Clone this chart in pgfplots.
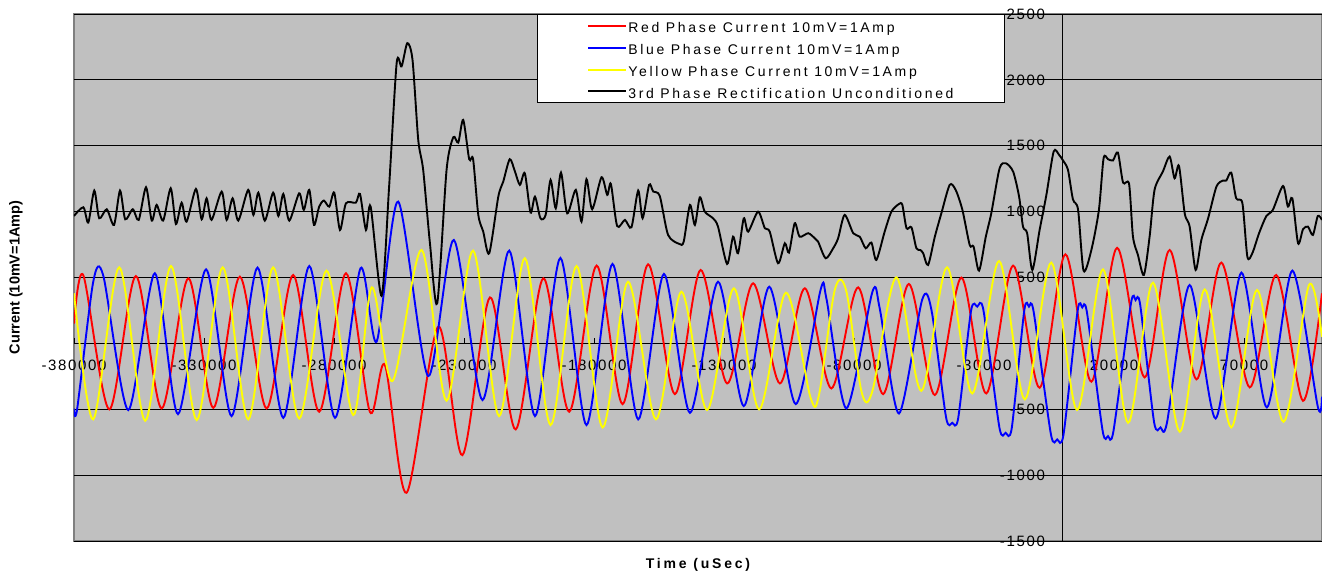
\documentclass[border=0pt]{standalone}
\usepackage{fontspec}
\setmainfont{Liberation Sans}
\newfontfamily\tickfont[LetterSpace=11]{Liberation Sans}
\newfontfamily\legfont[LetterSpace=19]{Liberation Sans}
\newfontfamily\xlabfont[LetterSpace=20]{Liberation Sans}
\usepackage{pgfplots}
\pgfplotsset{compat=1.18}
\definecolor{plotgray}{HTML}{C0C0C0}
\definecolor{framegray}{HTML}{808080}
\definecolor{phred}{HTML}{FF0000}
\definecolor{phblue}{HTML}{0000FF}
\definecolor{phyellow}{HTML}{FFFF00}
\begin{document}
\begin{tikzpicture}
\useasboundingbox (-74pt,-33pt) rectangle (1248pt,541pt);
\begin{axis}[
 at={(0pt,0pt)}, anchor=south west,
 scale only axis, width=1248pt, height=527pt,
 xmin=-380000, xmax=100000, ymin=-1500, ymax=2500,
 axis lines=middle,
 axis line style={-, black, line width=0.8pt},
 xtick={-380000,-330000,-280000,-230000,-180000,-130000,-80000,-30000,20000,70000},
 xticklabels={-380000,-330000,-280000,-230000,-180000,-130000,-80000,-30000,20000,70000},
 ytick={-1500,-1000,-500,0,500,1000,1500,2000,2500},
 yticklabels={-1500,-1000,-500,0,500,1000,1500,2000,2500},
 scaled ticks=false,
 ymajorgrids, grid style={black, line width=0.8pt},
 axis background/.style={fill=plotgray, draw=framegray, line width=1.5pt},
 tick style={black, line width=0.8pt},
 major tick length=5pt,
 tick align=center,
 xtick style={yshift=2.5pt},
 ytick style={xshift=-2.5pt},
 xticklabel style={font=\tickfont\fontsize{15}{17}\selectfont, anchor=north, yshift=-11pt},
 yticklabel style={font=\tickfont\fontsize{15}{17}\selectfont, anchor=east, xshift=-11pt},
 xlabel={Time (uSec)}, ylabel={Current (10mV=1Amp)},
 every axis x label/.style={at={(axis description cs:0.5,-0.0455)}, anchor=center, font=\xlabfont\bfseries\fontsize{14}{16}\selectfont},
 every axis y label/.style={at={(axis description cs:-0.0465,0.5)}, anchor=center, rotate=90, font=\bfseries\fontsize{14.5}{17}\selectfont},
 legend style={at={(axis description cs:0.371,1)}, anchor=north west, draw=black, line width=0.8pt, fill=white, font=\legfont\fontsize{14}{16}\selectfont, inner xsep=50pt, inner ysep=0.4pt, row sep=0pt, nodes={text height=13.5pt, text depth=0pt, inner xsep=1pt, inner ysep=4.2pt}},
 legend cell align=left,
 every axis plot/.append style={line width=1.9pt, smooth},
]
% Red phase
\addplot[draw=phred, legend image code/.code={\draw[draw=phred, line width=2pt] (0pt,0pt) -- (38pt,0pt);}] coordinates {
(-380000,150) (-376400,516) (-366400,-501) (-356200,511) (-346300,-494) (-336000,494)
(-326400,-489) (-316200,506) (-305900,-494) (-295700,519) (-285700,-519) (-275400,532)
(-266200,-519) (-260400,-165) (-252100,-1134) (-239900,127) (-230600,-848) (-220000,349)
(-210100,-653) (-199500,494) (-189500,-519) (-179000,590) (-169000,-461) (-159200,600)
(-148900,-385) (-139000,557) (-128800,-304) (-118800,456) (-108500,-304) (-98900,418)
(-88700,-342) (-78400,425) (-68800,-385) (-58900,451) (-48900,-392) (-38700,499)
(-29100,-380) (-18800,590) (-8600,-337) (1300,676) (11300,-291) (21200,725)
(31800,-258) (41400,709) (51700,-273) (61300,613) (72200,-334) (82400,519)
(92700,-436) (100000,380)
};
\addlegendentry{Red Phase Current 10mV=1Amp}
% Blue phase
\addplot[draw=phblue, tension=0.45, legend image code/.code={\draw[draw=phblue, line width=2pt] (0pt,0pt) -- (38pt,0pt);}] coordinates {
(-380000,-496) (-378800,-500) (-372600,468) (-368700,511) (-359100,-506) (-348900,532)
(-340000,-537) (-329200,562) (-319400,-552) (-309400,575) (-299500,-565) (-289500,587)
(-279600,-565) (-269800,570) (-263600,13) (-255300,1076) (-243800,-248) (-233900,785)
(-222900,-430) (-212600,704) (-202700,-552) (-192900,648) (-182900,-620) (-172900,603)
(-163000,-577) (-153100,527) (-143100,-527) (-132300,468) (-122400,-476) (-112600,430)
(-102400,-461) (-92800,410) (-90600,340) (-82900,-494) (-72900,392) (-70100,265)
(-62700,-532) (-53800,330) (-50200,253) (-44600,-560) (-42200,-603) (-39900,-565)
(-35000,245) (-32600,279) (-30200,250) (-24100,-635) (-21700,-679) (-19300,-640)
(-14500,250) (-12700,279) (-10900,240) (-4300,-685) (-1850,-729) (600,-690)
(6000,245) (7800,273) (9600,235) (15600,-660) (17700,-704) (19800,-665)
(26500,300) (28300,329) (30100,290) (35400,-595) (37900,-638) (40400,-600)
(49100,443) (59100,-570) (69000,537) (78800,-486)
(88600,552) (98400,-481) (100000,-405)
};
\addlegendentry{Blue Phase Current 10mV=1Amp}
% Yellow phase
\addplot[draw=phyellow, legend image code/.code={\draw[draw=phyellow, line width=2pt] (0pt,0pt) -- (38pt,0pt);}] coordinates {
(-380000,380) (-372600,-577) (-362600,577) (-352600,-587) (-342700,587) (-332800,-582)
(-322800,577) (-313000,-577) (-303400,577) (-293400,-570) (-282900,552) (-272600,-544)
(-265500,425) (-257500,-286) (-246300,709) (-236700,-435) (-226500,704) (-216500,-552)
(-206600,646) (-196700,-620) (-186700,587) (-176700,-638) (-166900,468) (-156200,-577)
(-146400,392) (-136500,-506) (-126200,418) (-116500,-501) (-106200,385) (-96800,-405)
(-93500,-395) (-87400,405) (-83000,400) (-77100,-367) (-72900,-360) (-63700,501)
(-54100,-360) (-44200,577) (-34500,-380) (-24200,625) (-14300,-425) (-4100,613)
(5800,-506) (15800,562) (25400,-603) (35000,461) (45300,-671) (54900,410)
(65100,-638) (75000,405) (85200,-595) (95000,443) (100000,50)
};
\addlegendentry{Yellow Phase Current 10mV=1Amp}
% 3rd phase rectification
\addplot[draw=black, tension=0.45, legend image code/.code={\draw[draw=black, line width=2pt] (0pt,0pt) -- (38pt,0pt);}] coordinates {
(-380000,967) (-376400,1033) (-374500,917) (-372200,1160) (-370300,950) (-367400,1018)
(-364600,899) (-362300,1160) (-360300,942) (-357400,1018) (-355100,937) (-352300,1185)
(-350100,932) (-348200,1051) (-345700,932) (-342800,1177) (-340800,906) (-338600,1068)
(-336700,924) (-333100,1172) (-330900,942) (-329000,1101) (-327100,937) (-323200,1152)
(-321300,937) (-319000,1101) (-316800,932) (-313000,1165) (-311000,975) (-309100,1144)
(-306600,932) (-303400,1144) (-301400,967) (-299500,1134) (-297200,932) (-293400,1139)
(-291600,1013) (-289500,1165) (-287700,899) (-285700,1038) (-283900,1084) (-281800,1038)
(-279900,1144) (-277700,861) (-275400,1063) (-271600,1068) (-270000,1134) (-267700,861)
(-265900,1038) (-261700,360) (-258800,1190) (-255900,2127) (-254000,2102) (-251800,2279)
(-249800,2152) (-247600,1545) (-245700,1317) (-243100,760) (-240300,304) (-236700,1317)
(-234100,1565) (-232200,1524) (-230300,1696) (-228000,1398) (-226500,1398) (-224500,975)
(-222600,848) (-220300,684) (-216800,1114) (-214900,1228) (-212400,1398) (-210400,1304)
(-208500,1203) (-206600,1291) (-204400,993) (-202700,1114) (-200600,950) (-198600,975)
(-196700,1241) (-194700,1025) (-192700,1296) (-190300,987) (-187000,1165) (-184800,924)
(-182900,1246) (-180700,1018) (-177100,1261) (-174900,1127) (-173500,1210) (-171100,891)
(-168100,937) (-165600,881) (-163000,1160) (-161300,950) (-158800,1203) (-157200,1152)
(-154700,1119) (-151500,823) (-147200,755) (-145500,772) (-143100,1051) (-141200,899)
(-139300,1109) (-137400,1000) (-134200,949) (-132300,886) (-128800,603) (-126500,810)
(-124600,684) (-122400,949) (-120700,848) (-116900,1000) (-114300,874) (-112400,848)
(-109200,608) (-106600,760) (-105000,689) (-102800,912) (-100900,810) (-97600,836)
(-95100,798) (-93800,772) (-90900,646) (-88000,722) (-86100,798) (-83600,975)
(-80300,836) (-77800,810) (-75500,722) (-73300,765) (-71400,633) (-68200,848)
(-65600,1000) (-62700,1058) (-61400,1051) (-59800,874) (-57900,881) (-56000,722)
(-54500,709) (-53400,684) (-51500,595) (-48900,810) (-46400,987) (-43200,1203)
(-40900,1165) (-38300,1013) (-35500,747) (-34000,734) (-31900,552) (-29300,810)
(-27200,987) (-24000,1329) (-21600,1367) (-18800,1304) (-16500,1114) (-15000,886)
(-13400,836) (-11400,557) (-8600,861) (-6000,1127) (-3200,1456) (-1100,1430)
(400,1388) (2300,1317) (4200,1094) (6200,1013) (8300,552) (11300,709)
(14200,1013) (16000,1405) (17700,1398) (19600,1388) (21500,1448) (23500,1220)
(25800,1210) (27300,810) (29200,671) (31500,519) (33700,810) (35600,1165)
(38800,1304) (41400,1418) (43300,1253) (45000,1347) (47200,987) (49100,886)
(51400,557) (53600,785) (56200,949) (59400,1190) (61900,1236) (63200,1236)
(65100,1296) (67000,1101) (69400,1063) (71300,658) (73200,684) (75800,836)
(78600,967) (81100,1013) (85000,1195) (86900,1038) (88600,1101) (90800,760)
(92700,866) (94600,886) (96500,823) (98400,967) (100000,937)
};
\addlegendentry{3rd Phase Rectification Unconditioned}
\end{axis}
\end{tikzpicture}
\end{document}
